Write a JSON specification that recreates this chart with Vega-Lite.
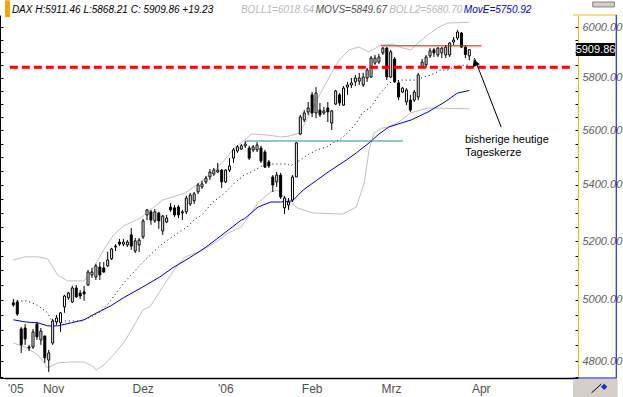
{
"$schema": "https://vega.github.io/schema/vega-lite/v6.json",
"width": 578, "height": 363,
"autosize": {"type": "none"},
"padding": {"left": 0, "top": 15, "right": 45, "bottom": 19},
"background": "#ffffff",
"config": {"view": {"stroke": null}, "axis": {"grid": false, "title": null}},
"resolve": {"axis": {"x": "independent", "y": "independent"}},
"datasets": {
"candles": [
{"i":0,"open":4990,"high":5003,"low":4977,"close":4983},
{"i":1,"open":4993,"high":5000,"low":4947,"close":4953},
{"i":2,"open":4904,"high":4910,"low":4826,"close":4852},
{"i":3,"open":4907,"high":4920,"low":4852,"close":4871},
{"i":4,"open":4845,"high":4852,"low":4832,"close":4842},
{"i":5,"open":4845,"high":4904,"low":4839,"close":4894},
{"i":6,"open":4920,"high":4927,"low":4868,"close":4878},
{"i":7,"open":4868,"high":4907,"low":4852,"close":4897},
{"i":8,"open":4881,"high":4881,"low":4794,"close":4810},
{"i":9,"open":4803,"high":4836,"low":4765,"close":4826},
{"i":10,"open":4858,"high":4937,"low":4852,"close":4930},
{"i":11,"open":4927,"high":4950,"low":4917,"close":4940},
{"i":12,"open":4924,"high":4960,"low":4894,"close":4957},
{"i":13,"open":4977,"high":5017,"low":4957,"close":5013},
{"i":14,"open":5007,"high":5027,"low":5000,"close":5023},
{"i":15,"open":4993,"high":5047,"low":4990,"close":5040},
{"i":16,"open":5040,"high":5050,"low":5007,"close":5010},
{"i":17,"open":5023,"high":5033,"low":5003,"close":5013},
{"i":18,"open":5027,"high":5047,"low":4997,"close":5020},
{"i":19,"open":5050,"high":5101,"low":5047,"close":5094},
{"i":20,"open":5084,"high":5108,"low":5074,"close":5094},
{"i":21,"open":5077,"high":5122,"low":5067,"close":5115},
{"i":22,"open":5111,"high":5128,"low":5067,"close":5084},
{"i":23,"open":5108,"high":5128,"low":5091,"close":5094},
{"i":24,"open":5115,"high":5163,"low":5111,"close":5135},
{"i":25,"open":5139,"high":5177,"low":5135,"close":5173},
{"i":26,"open":5180,"high":5190,"low":5166,"close":5183},
{"i":27,"open":5197,"high":5208,"low":5183,"close":5190},
{"i":28,"open":5190,"high":5208,"low":5183,"close":5197},
{"i":29,"open":5187,"high":5204,"low":5180,"close":5197},
{"i":30,"open":5222,"high":5246,"low":5170,"close":5183},
{"i":31,"open":5166,"high":5211,"low":5159,"close":5201},
{"i":32,"open":5187,"high":5211,"low":5163,"close":5204},
{"i":33,"open":5215,"high":5278,"low":5208,"close":5271},
{"i":34,"open":5292,"high":5313,"low":5274,"close":5310},
{"i":35,"open":5303,"high":5310,"low":5257,"close":5274},
{"i":36,"open":5271,"high":5313,"low":5264,"close":5303},
{"i":37,"open":5299,"high":5303,"low":5243,"close":5271},
{"i":38,"open":5236,"high":5292,"low":5222,"close":5288},
{"i":39,"open":5267,"high":5292,"low":5264,"close":5281},
{"i":40,"open":5320,"high":5334,"low":5303,"close":5310},
{"i":41,"open":5317,"high":5327,"low":5285,"close":5292},
{"i":42,"open":5320,"high":5327,"low":5281,"close":5292},
{"i":43,"open":5299,"high":5310,"low":5274,"close":5303},
{"i":44,"open":5303,"high":5360,"low":5295,"close":5352},
{"i":45,"open":5331,"high":5370,"low":5324,"close":5363},
{"i":46,"open":5342,"high":5374,"low":5331,"close":5367},
{"i":47,"open":5374,"high":5406,"low":5367,"close":5399},
{"i":48,"open":5392,"high":5414,"low":5385,"close":5403},
{"i":49,"open":5410,"high":5432,"low":5403,"close":5424},
{"i":50,"open":5428,"high":5457,"low":5417,"close":5446},
{"i":51,"open":5439,"high":5461,"low":5432,"close":5453},
{"i":52,"open":5446,"high":5479,"low":5443,"close":5453},
{"i":53,"open":5453,"high":5457,"low":5388,"close":5410},
{"i":54,"open":5410,"high":5457,"low":5406,"close":5453},
{"i":55,"open":5453,"high":5497,"low":5446,"close":5468},
{"i":56,"open":5497,"high":5534,"low":5479,"close":5527},
{"i":57,"open":5523,"high":5545,"low":5516,"close":5538},
{"i":58,"open":5530,"high":5549,"low":5527,"close":5542},
{"i":59,"open":5542,"high":5560,"low":5534,"close":5549},
{"i":60,"open":5534,"high":5542,"low":5490,"close":5497},
{"i":61,"open":5527,"high":5545,"low":5519,"close":5538},
{"i":62,"open":5527,"high":5556,"low":5519,"close":5545},
{"i":63,"open":5534,"high":5542,"low":5479,"close":5486},
{"i":64,"open":5519,"high":5527,"low":5461,"close":5464},
{"i":65,"open":5483,"high":5490,"low":5461,"close":5468},
{"i":66,"open":5428,"high":5435,"low":5374,"close":5399},
{"i":67,"open":5410,"high":5446,"low":5392,"close":5435},
{"i":68,"open":5435,"high":5443,"low":5349,"close":5356},
{"i":69,"open":5317,"high":5360,"low":5295,"close":5352},
{"i":70,"open":5327,"high":5352,"low":5310,"close":5338},
{"i":71,"open":5345,"high":5435,"low":5338,"close":5428},
{"i":72,"open":5428,"high":5556,"low":5428,"close":5553},
{"i":73,"open":5586,"high":5658,"low":5582,"close":5650},
{"i":74,"open":5639,"high":5676,"low":5631,"close":5665},
{"i":75,"open":5669,"high":5707,"low":5658,"close":5684},
{"i":76,"open":5734,"high":5745,"low":5650,"close":5665},
{"i":77,"open":5665,"high":5764,"low":5646,"close":5741},
{"i":78,"open":5676,"high":5703,"low":5650,"close":5658},
{"i":79,"open":5665,"high":5688,"low":5658,"close":5673},
{"i":80,"open":5684,"high":5707,"low":5631,"close":5669},
{"i":81,"open":5627,"high":5676,"low":5601,"close":5673},
{"i":82,"open":5699,"high":5753,"low":5695,"close":5749},
{"i":83,"open":5734,"high":5741,"low":5692,"close":5703},
{"i":84,"open":5695,"high":5768,"low":5692,"close":5760},
{"i":85,"open":5764,"high":5784,"low":5734,"close":5772},
{"i":86,"open":5772,"high":5799,"low":5760,"close":5780},
{"i":87,"open":5784,"high":5811,"low":5768,"close":5799},
{"i":88,"open":5787,"high":5819,"low":5772,"close":5799},
{"i":89,"open":5772,"high":5819,"low":5764,"close":5803},
{"i":90,"open":5799,"high":5838,"low":5784,"close":5830},
{"i":91,"open":5803,"high":5885,"low":5799,"close":5877},
{"i":92,"open":5857,"high":5889,"low":5850,"close":5877},
{"i":93,"open":5861,"high":5893,"low":5854,"close":5881},
{"i":94,"open":5897,"high":5920,"low":5889,"close":5916},
{"i":95,"open":5916,"high":5920,"low":5791,"close":5803},
{"i":96,"open":5803,"high":5909,"low":5799,"close":5901},
{"i":97,"open":5873,"high":5881,"low":5780,"close":5784},
{"i":98,"open":5780,"high":5791,"low":5714,"close":5726},
{"i":99,"open":5745,"high":5764,"low":5741,"close":5760},
{"i":100,"open":5707,"high":5760,"low":5695,"close":5753},
{"i":101,"open":5714,"high":5734,"low":5669,"close":5676},
{"i":102,"open":5714,"high":5753,"low":5707,"close":5745},
{"i":103,"open":5726,"high":5819,"low":5714,"close":5811},
{"i":104,"open":5842,"high":5873,"low":5838,"close":5861},
{"i":105,"open":5850,"high":5889,"low":5838,"close":5881},
{"i":106,"open":5885,"high":5916,"low":5877,"close":5905},
{"i":107,"open":5909,"high":5916,"low":5881,"close":5897},
{"i":108,"open":5889,"high":5920,"low":5881,"close":5916},
{"i":109,"open":5897,"high":5920,"low":5877,"close":5916},
{"i":110,"open":5889,"high":5928,"low":5877,"close":5920},
{"i":111,"open":5889,"high":5940,"low":5881,"close":5936},
{"i":112,"open":5940,"high":5960,"low":5928,"close":5948},
{"i":113,"open":5956,"high":5988,"low":5948,"close":5980},
{"i":114,"open":5976,"high":5980,"low":5916,"close":5920},
{"i":115,"open":5920,"high":5928,"low":5877,"close":5890.63},
{"i":116,"open":5885,"high":5911.46,"low":5868.21,"close":5909.86}
],
"boll1": [
{"i":0,"v":5135},{"i":3,"v":5146},{"i":6.25,"v":5146},{"i":8.75,"v":5139},{"i":11.25,"v":5084},{"i":13.75,"v":5064},{"i":18,"v":5064},{"i":20.5,"v":5111},{"i":23,"v":5170},{"i":25.5,"v":5222},{"i":28,"v":5253},{"i":31.25,"v":5274},{"i":33,"v":5288},{"i":35.5,"v":5317},{"i":38,"v":5345},{"i":40.5,"v":5356},{"i":43.75,"v":5370},{"i":47.25,"v":5406},{"i":51.25,"v":5453},{"i":53.75,"v":5490},{"i":56.25,"v":5534},{"i":59.75,"v":5575},{"i":60.5,"v":5586},{"i":64.75,"v":5582},{"i":68,"v":5575},{"i":70,"v":5578},{"i":72.9,"v":5590},{"i":74.6,"v":5639},{"i":77.9,"v":5734},{"i":80.4,"v":5803},{"i":82.9,"v":5869},{"i":85.4,"v":5909},{"i":87.9,"v":5920},{"i":90.4,"v":5901},{"i":93.6,"v":5928},{"i":96.6,"v":5932},{"i":99.1,"v":5916},{"i":101.1,"v":5909},{"i":102.9,"v":5936},{"i":105.4,"v":5968},{"i":107.9,"v":5996},{"i":110.4,"v":6016},{"i":116,"v":6018.64}
],
"boll2": [
{"i":0,"v":4858},{"i":3,"v":4845},{"i":6.25,"v":4820},{"i":8.75,"v":4778},{"i":11.25,"v":4794},{"i":14.75,"v":4797},{"i":18,"v":4797},{"i":20.5,"v":4781},{"i":21,"v":4771},{"i":23,"v":4787},{"i":25.5,"v":4820},{"i":28,"v":4858},{"i":29.75,"v":4894},{"i":33,"v":4967},{"i":34.75,"v":4977},{"i":38,"v":5044},{"i":41.25,"v":5108},{"i":43.75,"v":5146},{"i":47.25,"v":5163},{"i":51.25,"v":5194},{"i":54.75,"v":5229},{"i":58,"v":5250},{"i":62.25,"v":5335},{"i":65.5,"v":5374},{"i":67.25,"v":5381},{"i":68.75,"v":5356},{"i":72.25,"v":5317},{"i":76.25,"v":5299},{"i":83.75,"v":5295},{"i":87.25,"v":5320},{"i":89.25,"v":5406},{"i":90.5,"v":5527},{"i":91.75,"v":5590},{"i":93.75,"v":5608},{"i":95.5,"v":5612},{"i":98,"v":5631},{"i":101.1,"v":5665},{"i":105.4,"v":5684},{"i":116,"v":5680.7}
],
"movs": [
{"i":0,"v":4996.5},{"i":3.5,"v":4996.5},{"i":6,"v":4983},{"i":8.75,"v":4957},{"i":9.75,"v":4930},{"i":17.25,"v":4930},{"i":20,"v":4945},{"i":22,"v":4960},{"i":24,"v":4985},{"i":26,"v":5020},{"i":28,"v":5055},{"i":30,"v":5085},{"i":33,"v":5128},{"i":37.5,"v":5187},{"i":40,"v":5211},{"i":42.25,"v":5232},{"i":44.25,"v":5250},{"i":46.25,"v":5278},{"i":48,"v":5292},{"i":50.5,"v":5334},{"i":53.75,"v":5370},{"i":56.25,"v":5406},{"i":58.75,"v":5435},{"i":60.5,"v":5446},{"i":63.75,"v":5472},{"i":66,"v":5475},{"i":69.75,"v":5475},{"i":70.5,"v":5468},{"i":73,"v":5490},{"i":74.75,"v":5508},{"i":77.25,"v":5527},{"i":79.75,"v":5538},{"i":81.25,"v":5553},{"i":83,"v":5564},{"i":85,"v":5590},{"i":87.25,"v":5627},{"i":88.75,"v":5665},{"i":91,"v":5688},{"i":93,"v":5734},{"i":94.75,"v":5764},{"i":95.5,"v":5780},{"i":98.5,"v":5791},{"i":103,"v":5791},{"i":103.75,"v":5799},{"i":106.25,"v":5811},{"i":108.75,"v":5830},{"i":110.5,"v":5830},{"i":112.25,"v":5842},{"i":114,"v":5848},{"i":116,"v":5849.67}
],
"move": [
{"i":0,"v":4934},{"i":3,"v":4927},{"i":6.25,"v":4924},{"i":8.75,"v":4914},{"i":11.25,"v":4914},{"i":14.75,"v":4924},{"i":18,"v":4934},{"i":21.25,"v":4957},{"i":24.75,"v":4980},{"i":28,"v":5007},{"i":33,"v":5044},{"i":37.25,"v":5077},{"i":40.5,"v":5108},{"i":44.75,"v":5142},{"i":48,"v":5170},{"i":49.75,"v":5187},{"i":58,"v":5274},{"i":58.75,"v":5278},{"i":62.25,"v":5320},{"i":65.5,"v":5338},{"i":68,"v":5338},{"i":71,"v":5342},{"i":73.75,"v":5381},{"i":77.25,"v":5417},{"i":80.5,"v":5450},{"i":84.75,"v":5490},{"i":87.25,"v":5516},{"i":90.5,"v":5553},{"i":93,"v":5586},{"i":95.5,"v":5612},{"i":98,"v":5624},{"i":101.25,"v":5639},{"i":105.5,"v":5669},{"i":109.75,"v":5707},{"i":113,"v":5741},{"i":116,"v":5750.92}
]
},
"layer": [
{"data": {"name": "boll1"}, "mark": {"type": "line", "color": "#c0c0c0", "strokeWidth": 1},
 "encoding": {"x": {"field": "i", "type": "quantitative", "scale": {"type": "linear", "domain": [-2.125, 142.375], "nice": false, "zero": false},
   "axis": {"orient": "bottom", "values": [0.5, 10.1, 32.9, 53.9, 75.9, 96.1, 118.9], "labelExpr": "datum.value < 5 ? \"'05\" : datum.value < 20 ? 'Nov' : datum.value < 40 ? 'Dez' : datum.value < 60 ? \"'06\" : datum.value < 80 ? 'Feb' : datum.value < 100 ? 'Mrz' : 'Apr'", "ticks": false, "domain": true, "domainColor": "#000000", "domainWidth": 1, "labelFont": "Liberation Sans", "labelFontSize": 12, "labelColor": "#505050", "labelPadding": 5, "labelOverlap": false, "labelBound": false, "labelFlush": false, "title": null}},
  "y": {"field": "v", "type": "quantitative", "scale": {"type": "log", "domain": [4745.8, 6048.3], "nice": false}, "axis": null}}},
{"data": {"name": "boll2"}, "mark": {"type": "line", "color": "#c0c0c0", "strokeWidth": 1},
 "encoding": {"x": {"field": "i", "type": "quantitative", "axis": null}, "y": {"field": "v", "type": "quantitative", "axis": null}}},
{"data": {"name": "movs"}, "mark": {"type": "line", "color": "#000000", "strokeWidth": 1, "strokeDash": [1, 3]},
 "encoding": {"x": {"field": "i", "type": "quantitative", "axis": null}, "y": {"field": "v", "type": "quantitative", "axis": null}}},
{"data": {"name": "move"}, "mark": {"type": "line", "color": "#0000cc", "strokeWidth": 1},
 "encoding": {"x": {"field": "i", "type": "quantitative", "axis": null}, "y": {"field": "v", "type": "quantitative", "axis": null}}},
{"data": {"name": "candles"}, "mark": {"type": "rule", "color": "#000000", "strokeWidth": 1},
 "encoding": {"x": {"field": "i", "type": "quantitative", "axis": null},
  "y": {"field": "low", "type": "quantitative", "axis": {"orient": "left", "values": [4750,4800,4850,4900,4950,5000,5050,5100,5150,5200,5250,5300,5350,5400,5450,5500,5550,5600,5650,5700,5750,5800,5850,5900,5950,6000], "labels": false, "tickSize": -3, "tickColor": "#000000", "domainColor": "#000000", "title": null}},
  "y2": {"field": "high"}}},
{"data": {"name": "candles"}, "mark": {"type": "bar", "orient": "vertical", "size": 2, "stroke": "#000000", "strokeWidth": 1},
 "encoding": {"x": {"field": "i", "type": "quantitative", "axis": null},
  "y": {"field": "open", "type": "quantitative", "axis": {"orient": "right", "values": [4750,4800,4850,4900,4950,5000,5050,5100,5150,5200,5250,5300,5350,5400,5450,5500,5550,5600,5650,5700,5750,5800,5850,5900,5950,6000], "labelExpr": "datum.value % 200 === 0 ? format(datum.value, '.2f') : ''", "tickSize": -3, "labelPadding": 7, "tickColor": "#000000", "domainColor": "#f0c000", "labelFont": "Liberation Sans", "labelFontSize": 11, "labelFontStyle": "italic", "labelColor": "#606060", "labelAlign": "left", "labelBaseline": "middle", "labelOverlap": false, "labelBound": false, "labelFlush": false, "title": null}},
  "y2": {"field": "close"},
  "fill": {"condition": {"test": "datum.close < datum.open", "value": "#000000"}, "value": "#ffffff"}}},
{"data": {"values": [{}]}, "mark": {"type": "rule", "color": "#000000", "strokeWidth": 1.5},
 "encoding": {"x": {"datum": -2.125, "type": "quantitative", "axis": null}, "x2": {"datum": 142.375}, "y": {"datum": 4744.3, "type": "quantitative", "axis": null}}},
{"data": {"values": [{}]}, "mark": {"type": "rule", "color": "#2e8b8b", "strokeWidth": 1},
 "encoding": {"x": {"datum": 59.1, "type": "quantitative", "axis": null}, "x2": {"datum": 99.1}, "y": {"datum": 5560, "type": "quantitative", "axis": null}}},
{"data": {"values": [{}]}, "mark": {"type": "rule", "color": "#ff0000", "strokeWidth": 1},
 "encoding": {"x": {"datum": 93.5, "type": "quantitative", "axis": null}, "x2": {"datum": 119.1}, "y": {"datum": 5925, "type": "quantitative", "axis": null}}},
{"data": {"values": [{}]}, "mark": {"type": "rule", "color": "#ff0000", "strokeWidth": 3, "strokeDash": [8, 4]},
 "encoding": {"x": {"datum": -0.9, "type": "quantitative", "axis": null}, "x2": {"datum": 142.3}, "y": {"datum": 5841, "type": "quantitative", "axis": null}}},
{"data": {"values": [{}]}, "mark": {"type": "rule", "color": "#000000", "strokeWidth": 1},
 "encoding": {"x": {"datum": 124.1, "type": "quantitative", "axis": null}, "x2": {"datum": 117.3}, "y": {"datum": 5612, "type": "quantitative", "axis": null}, "y2": {"datum": 5877}}},
{"data": {"values": [{}]}, "mark": {"type": "point", "shape": "triangle-up", "filled": true, "color": "#000000", "size": 60, "angle": 337.5, "opacity": 1},
 "encoding": {"x": {"datum": 117.45, "type": "quantitative", "axis": null}, "y": {"datum": 5859, "type": "quantitative", "axis": null}}},
{"data": {"values": [{}]}, "mark": {"type": "text", "align": "left", "baseline": "top", "font": "Liberation Sans", "fontSize": 11, "lineHeight": 13, "color": "#000000"},
 "encoding": {"x": {"datum": 114.9, "type": "quantitative", "axis": null}, "y": {"datum": 5586, "type": "quantitative", "axis": null}, "text": {"value": ["bisherige heutige", "Tageskerze"]}}},
{"data": {"values": [{}]}, "mark": {"type": "text", "align": "left", "baseline": "alphabetic", "font": "Liberation Sans", "fontSize": 10, "fontStyle": "italic", "color": "#000000"},
 "encoding": {"x": {"datum": -0.375, "type": "quantitative", "axis": null}, "y": {"datum": 6058, "type": "quantitative", "axis": null}, "text": {"value": "DAX H:5911.46 L:5868.21 C: 5909.86 +19.23"}}},
{"data": {"values": [{}]}, "mark": {"type": "text", "align": "left", "baseline": "alphabetic", "font": "Liberation Sans", "fontSize": 10, "fontStyle": "italic", "color": "#b8b8b8"},
 "encoding": {"x": {"datum": 57.9, "type": "quantitative", "axis": null}, "y": {"datum": 6058, "type": "quantitative", "axis": null}, "text": {"value": "BOLL1=6018.64"}}},
{"data": {"values": [{}]}, "mark": {"type": "text", "align": "left", "baseline": "alphabetic", "font": "Liberation Sans", "fontSize": 10, "fontStyle": "italic", "color": "#505050"},
 "encoding": {"x": {"datum": 76.9, "type": "quantitative", "axis": null}, "y": {"datum": 6058, "type": "quantitative", "axis": null}, "text": {"value": "MOVS=5849.67"}}},
{"data": {"values": [{}]}, "mark": {"type": "text", "align": "left", "baseline": "alphabetic", "font": "Liberation Sans", "fontSize": 10, "fontStyle": "italic", "color": "#b8b8b8"},
 "encoding": {"x": {"datum": 95.6, "type": "quantitative", "axis": null}, "y": {"datum": 6058, "type": "quantitative", "axis": null}, "text": {"value": "BOLL2=5680.70"}}},
{"data": {"values": [{}]}, "mark": {"type": "text", "align": "left", "baseline": "alphabetic", "font": "Liberation Sans", "fontSize": 10, "fontStyle": "italic", "color": "#0000cc"},
 "encoding": {"x": {"datum": 114.6, "type": "quantitative", "axis": null}, "y": {"datum": 6058, "type": "quantitative", "axis": null}, "text": {"value": "MovE=5750.92"}}},
{"data": {"values": [{}]}, "mark": {"type": "rect", "color": "#f5a30a"},
 "encoding": {"x": {"datum": -2.125, "type": "quantitative", "axis": null}, "x2": {"datum": -0.875}, "y": {"datum": 6108, "type": "quantitative", "axis": null}, "y2": {"datum": 6040}}},
{"data": {"values": [{}]}, "mark": {"type": "rect", "fill": "#d4d0c8", "stroke": "#808080", "strokeWidth": 1},
 "encoding": {"x": {"datum": 147.4, "type": "quantitative", "axis": null}, "x2": {"datum": 152.9}, "y": {"datum": 6101, "type": "quantitative", "axis": null}, "y2": {"datum": 6081}}},
{"data": {"values": [{}]}, "mark": {"type": "rect", "fill": "#d4d0c8"},
 "encoding": {"x": {"datum": 142.375, "type": "quantitative", "axis": null}, "x2": {"datum": 153.75}, "y": {"datum": 4743, "type": "quantitative", "axis": null}, "y2": {"datum": 4680}}},
{"data": {"values": [{}]}, "mark": {"type": "rule", "color": "#000000", "strokeWidth": 1},
 "encoding": {"x": {"datum": 147.1, "type": "quantitative", "axis": null}, "x2": {"datum": 149.6}, "y": {"datum": 4699, "type": "quantitative", "axis": null}, "y2": {"datum": 4727}}},
{"data": {"values": [{}]}, "mark": {"type": "point", "shape": "diamond", "filled": true, "color": "#1030d0", "size": 40, "opacity": 1},
 "encoding": {"x": {"datum": 150.3, "type": "quantitative", "axis": null}, "y": {"datum": 4718, "type": "quantitative", "axis": null}}},
{"data": {"values": [{}]}, "mark": {"type": "rule", "color": "#f0c000", "strokeWidth": 1},
 "encoding": {"x": {"datum": 142.375, "type": "quantitative", "axis": null}, "x2": {"datum": 153.5}, "y": {"datum": 6048.3, "type": "quantitative", "axis": null}}},
{"data": {"values": [{}]}, "mark": {"type": "rule", "color": "#0000cc", "strokeWidth": 1},
 "encoding": {"x": {"datum": 153.375, "type": "quantitative", "axis": null}, "y": {"datum": 6048.3, "type": "quantitative", "axis": null}, "y2": {"datum": 4745.8}}},
{"data": {"values": [{}]}, "mark": {"type": "rule", "color": "#0000cc", "strokeWidth": 1},
 "encoding": {"x": {"datum": 142.375, "type": "quantitative", "axis": null}, "x2": {"datum": 153.5}, "y": {"datum": 4745.8, "type": "quantitative", "axis": null}}},
{"data": {"values": [{}]}, "mark": {"type": "rect", "color": "#000000"},
 "encoding": {"x": {"datum": 143.1, "type": "quantitative", "axis": null}, "x2": {"datum": 153.1}, "y": {"datum": 5936, "type": "quantitative", "axis": null}, "y2": {"datum": 5885}}},
{"data": {"values": [{}]}, "mark": {"type": "text", "align": "center", "baseline": "middle", "font": "Liberation Sans", "fontSize": 11, "color": "#ffffff"},
 "encoding": {"x": {"datum": 148.1, "type": "quantitative", "axis": null}, "y": {"datum": 5909.86, "type": "quantitative", "axis": null}, "text": {"value": "5909.86"}}}
]
}
